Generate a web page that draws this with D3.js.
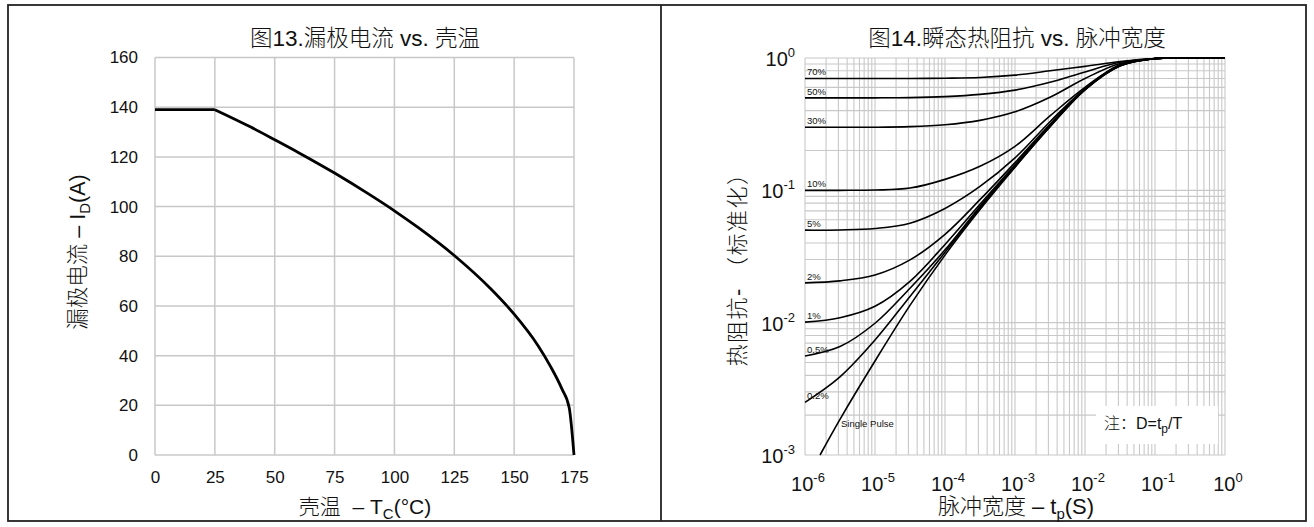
<!DOCTYPE html>
<html>
<head>
<meta charset="utf-8">
<script src="https://cdn.jsdelivr.net/npm/d3@7"></script>
<style>
  html, body { margin: 0; padding: 0; background: #fff; }
  svg { display: block; }
  text { font-family: "Liberation Sans", Arial, "Noto Sans CJK SC", sans-serif; fill: #111; }
  .lite { font-weight: 300; }
</style>
</head>
<body>
<svg id="chart" width="1314" height="527"></svg>
<script>
// ---- Fig.13: drain current vs. case temperature ----
const caseTemp = [0, 25, 40, 50, 60, 75, 90, 100, 110, 125, 140, 150, 160, 165, 170, 173, 175];
const drainCurrent = [139, 139, 132, 126.9, 121.7, 113.5, 104.6, 98.3, 91.5, 80.3, 67.1, 56.7, 44, 36, 26.5, 19, 0];
const tempTicks = [0, 25, 50, 75, 100, 125, 150, 175];
const currentTicks = [0, 20, 40, 60, 80, 100, 120, 140, 160];

// ---- Fig.14: normalized transient thermal impedance vs. pulse width ----
const pulseWidth = [1e-6, 3.16e-6, 1e-5, 3.16e-5, 1e-4, 3.16e-4, 1e-3, 3.16e-3, 1e-2, 3.16e-2, 1e-1, 3.16e-1, 1];
const duty70 = [0.70, 0.70, 0.70, 0.70, 0.703, 0.712, 0.742, 0.80, 0.865, 0.94, 0.992, 1.0, 1.0];
const duty50 = [0.50, 0.50, 0.50, 0.502, 0.511, 0.531, 0.572, 0.655, 0.785, 0.928, 0.991, 1.0, 1.0];
const duty30 = [0.30, 0.30, 0.30, 0.303, 0.313, 0.338, 0.392, 0.505, 0.70, 0.908, 0.99, 1.0, 1.0];
const duty10 = [0.10, 0.10, 0.1005, 0.104, 0.121, 0.152, 0.215, 0.365, 0.60, 0.89, 0.99, 1.0, 1.0];
const duty5 = [0.050, 0.0502, 0.0515, 0.0565, 0.073, 0.107, 0.176, 0.33, 0.588, 0.884, 0.99, 1.0, 1.0];
const duty2 = [0.020, 0.0207, 0.0229, 0.0298, 0.0465, 0.085, 0.162, 0.315, 0.583, 0.88, 0.99, 1.0, 1.0];
const duty1 = [0.0101, 0.0109, 0.0133, 0.0205, 0.039, 0.0785, 0.156, 0.308, 0.579, 0.876, 0.99, 1.0, 1.0];
const duty05 = [0.0056, 0.0066, 0.0099, 0.0182, 0.0355, 0.0755, 0.153, 0.305, 0.577, 0.873, 0.99, 1.0, 1.0];
const duty02 = [0.0025, 0.0039, 0.0074, 0.0158, 0.034, 0.0735, 0.151, 0.303, 0.576, 0.872, 0.99, 1.0, 1.0];
const singlePulseWidth = [1.64e-6, 3.16e-6, 1e-5, 3.16e-5, 1e-4, 3.16e-4, 1e-3, 3.16e-3, 1e-2, 3.16e-2, 1e-1, 3.16e-1, 1];
const singlePulse = [0.001, 0.00186, 0.00513, 0.0135, 0.0324, 0.0716, 0.1496, 0.302, 0.575, 0.871, 0.989, 1.0, 1.0];
const dutyLabels = ["70%", "50%", "30%", "10%", "5%", "2%", "1%", "0.5%", "0.2%"];
const dutySeries = [duty70, duty50, duty30, duty10, duty5, duty2, duty1, duty05, duty02];
const decadeExponents = [-6, -5, -4, -3, -2, -1, 0];
const impedanceExponents = [-3, -2, -1, 0];

const svg = d3.select("#chart");
const gridColor = "#c8c8c8";
const nb = "\u00A0";

// Panel frames
svg.append("rect").attr("x", 8).attr("y", 5).attr("width", 1298).attr("height", 516)
  .attr("fill", "none").attr("stroke", "#222").attr("stroke-width", 1.8);
svg.append("line").attr("x1", 661).attr("x2", 661).attr("y1", 5).attr("y2", 521)
  .attr("stroke", "#222").attr("stroke-width", 1.8);

// ================= Left chart =================
const L = { left: 155, right: 574, top: 57.5, bottom: 455 };
const xT = d3.scaleLinear().domain([0, 175]).range([L.left, L.right]);
const yI = d3.scaleLinear().domain([0, 160]).range([L.bottom, L.top]);
const gl = svg.append("g");

gl.append("g").selectAll("line").data(tempTicks).join("line")
  .attr("x1", d => xT(d)).attr("x2", d => xT(d)).attr("y1", L.top).attr("y2", L.bottom)
  .attr("stroke", gridColor).attr("stroke-width", 1.5);
gl.append("g").selectAll("line").data(currentTicks).join("line")
  .attr("x1", L.left).attr("x2", L.right).attr("y1", d => yI(d)).attr("y2", d => yI(d))
  .attr("stroke", gridColor).attr("stroke-width", 1.5);

const xAxisL = d3.axisBottom(xT).tickValues(tempTicks).tickSize(0).tickPadding(16);
gl.append("g").attr("transform", `translate(0,${L.bottom})`).call(xAxisL)
  .call(g => g.select(".domain").remove())
  .selectAll("text").attr("font-size", 17).attr("fill", "#111")
  .style("font-family", "'Liberation Sans', Arial, sans-serif");
const yAxisL = d3.axisLeft(yI).tickValues(currentTicks).tickSize(0).tickPadding(17);
gl.append("g").attr("transform", `translate(${L.left},0)`).call(yAxisL)
  .call(g => g.select(".domain").remove())
  .selectAll("text").attr("font-size", 17).attr("fill", "#111")
  .style("font-family", "'Liberation Sans', Arial, sans-serif");

// flat section up to 25 °C, then the smooth derating curve
const currentData = caseTemp.map((t, i) => [t, drainCurrent[i]]);
const lineI = d3.line().x(d => xT(d[0])).y(d => yI(d[1]));
gl.append("path").datum(currentData.slice(0, 2))
  .attr("d", lineI).attr("fill", "none").attr("stroke", "#000").attr("stroke-width", 2.8);
gl.append("path").datum(currentData.slice(1))
  .attr("d", lineI.curve(d3.curveMonotoneX))
  .attr("fill", "none").attr("stroke", "#000").attr("stroke-width", 2.8).attr("stroke-linejoin", "round");

gl.append("text").attr("class", "lite").attr("x", 365).attr("y", 46).attr("text-anchor", "middle")
  .attr("font-size", 22.5).text("图13.漏极电流 vs. 壳温");

const xtL = gl.append("text").attr("class", "lite").attr("x", 365).attr("y", 514).attr("text-anchor", "middle").attr("font-size", 21);
xtL.append("tspan").text("壳温" + nb + nb + "– T");
xtL.append("tspan").attr("font-size", 15).attr("dy", 5).text("C");
xtL.append("tspan").attr("dy", -5).text("(°C)");

const ytL = gl.append("text").attr("class", "lite").attr("transform", "translate(85,252) rotate(-90)")
  .attr("text-anchor", "middle").attr("font-size", 21.5);
ytL.append("tspan").text("漏极电流 – I");
ytL.append("tspan").attr("font-size", 15).attr("dy", 5).text("D");
ytL.append("tspan").attr("dy", -5).text("(A)");

// ================= Right chart =================
const R = { left: 805, right: 1225, top: 58, bottom: 455 };
const xP = d3.scaleLog().domain([1e-6, 1]).range([R.left, R.right]);
const yZ = d3.scaleLog().domain([1e-3, 1]).range([R.bottom, R.top]);
const gr = svg.append("g");

const xGrid = [];
decadeExponents.slice(0, -1).forEach(e => { for (let k = 1; k <= 9; k++) xGrid.push(k * Math.pow(10, e)); });
xGrid.push(1);
const yGrid = [];
impedanceExponents.slice(0, -1).forEach(e => { for (let k = 1; k <= 9; k++) yGrid.push(k * Math.pow(10, e)); });
yGrid.push(1);

gr.append("g").selectAll("line").data(xGrid).join("line")
  .attr("x1", d => xP(d)).attr("x2", d => xP(d)).attr("y1", R.top).attr("y2", R.bottom)
  .attr("stroke", gridColor).attr("stroke-width", 1.1);
gr.append("g").selectAll("line").data(yGrid).join("line")
  .attr("x1", R.left).attr("x2", R.right).attr("y1", d => yZ(d)).attr("y2", d => yZ(d))
  .attr("stroke", gridColor).attr("stroke-width", 1.1);

// Note box
gr.append("rect").attr("x", 1096).attr("y", 406).attr("width", 122).attr("height", 38).attr("fill", "#fff");
const note = gr.append("text").attr("x", 1104).attr("y", 429).attr("font-size", 16);
note.append("tspan").attr("class", "lite").text("注：");
note.append("tspan").text("D=t");
note.append("tspan").attr("font-size", 12).attr("dy", 4).text("p");
note.append("tspan").attr("dy", -4).text("/T");

// Tick labels with superscript exponents
const xLab = gr.append("g").selectAll("text").data(decadeExponents).join("text")
  .attr("x", d => xP(Math.pow(10, d)) + 3).attr("y", 491).attr("text-anchor", "middle").attr("font-size", 20);
xLab.append("tspan").text("10");
xLab.append("tspan").attr("font-size", 13).attr("dy", -9).text(d => d);

const yLab = gr.append("g").selectAll("text").data(impedanceExponents).join("text")
  .attr("x", 795).attr("y", d => yZ(Math.pow(10, d)) + 8).attr("text-anchor", "end").attr("font-size", 20);
yLab.append("tspan").text("10");
yLab.append("tspan").attr("font-size", 13).attr("dy", -9).text(d => d);

// Curves
const lineZ = d3.line().x(d => xP(d[0])).y(d => yZ(d[1])).curve(d3.curveCatmullRom.alpha(0.5));
dutySeries.forEach(s => {
  gr.append("path").datum(pulseWidth.map((t, j) => [t, s[j]]))
    .attr("d", lineZ).attr("fill", "none").attr("stroke", "#000").attr("stroke-width", 1.6);
});
gr.append("path").datum(singlePulseWidth.map((t, j) => [t, singlePulse[j]]))
  .attr("d", lineZ).attr("fill", "none").attr("stroke", "#000").attr("stroke-width", 1.6);

gr.append("g").selectAll("text").data(dutyLabels).join("text")
  .attr("x", 807).attr("y", (d, i) => yZ(dutySeries[i][0]) - 3)
  .attr("font-size", 9.5).attr("fill", "#333").text(d => d);
gr.append("text").attr("x", 841).attr("y", 427).attr("font-size", 9.5).attr("fill", "#333").text("Single Pulse");

gr.append("text").attr("class", "lite").attr("x", 1017).attr("y", 46).attr("text-anchor", "middle")
  .attr("font-size", 22.5).text("图14.瞬态热阻抗 vs. 脉冲宽度");

const xtR = gr.append("text").attr("class", "lite").attr("x", 1016).attr("y", 514).attr("text-anchor", "middle").attr("font-size", 22);
xtR.append("tspan").text("脉冲宽度 – t");
xtR.append("tspan").attr("font-size", 15).attr("dy", 5).text("p");
xtR.append("tspan").attr("dy", -5).text("(S)");

const ytR = gr.append("text").attr("class", "lite").attr("transform", "translate(745,264) rotate(-90)")
  .attr("text-anchor", "middle").attr("font-size", 22).attr("letter-spacing", 1.5);
ytR.append("tspan").text("热阻抗-");
ytR.append("tspan").attr("dx", 8).text("（标准化）");
</script>
</body>
</html>
